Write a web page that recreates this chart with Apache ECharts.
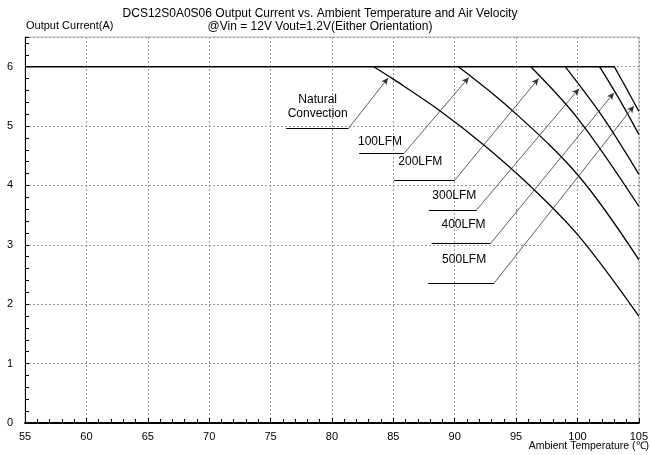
<!DOCTYPE html>
<html><head><meta charset="utf-8">
<script src="https://cdn.jsdelivr.net/npm/echarts@6/dist/echarts.min.js"></script>
<style>html,body{margin:0;padding:0;background:#fff}#c{width:651px;height:455px}</style>
</head><body><div id="c"></div>
<script>
const titleLines = ['DCS12S0A0S06 Output Current vs. Ambient Temperature and Air Velocity', '@Vin = 12V Vout=1.2V(Either Orientation)'];
const yName = 'Output Current(A)';
const xName = 'Ambient Temperature (\u2103)';
const xMin = 55, xMax = 105, xStep = 5;
const yMin = 0, yMax = 6.5, yStep = 1;

// flat 6 A plateau shared by all curves
const plateau = [[55,6],[103,6]];
// derating parts (from knee to 105 C)
const natural = [[83.4,6],[85,5.79],[88.85,5.25],[92.5,4.66],[96.15,3.99],[100.1,3.15],[105,1.8]];
const lfm100  = [[90.3,6],[94.6,5.28],[100.1,4.16],[105,2.75]];
const lfm200  = [[96.2,6],[100.1,5.11],[105,3.65]];
const lfm300  = [[99,6],[102,5.17],[105,4.19]];
const lfm400  = [[101.8,6],[103.5,5.42],[105,4.86]];
const lfm500  = [[103,6],[104,5.63],[105,5.25]];

// annotation labels: [text, x, y]
const labels = [
  ['Natural\nConvection', 78.84, 5.32],
  ['100LFM', 83.92, 4.73],
  ['200LFM', 87.2, 4.40],
  ['300LFM', 89.97, 3.82],
  ['400LFM', 90.72, 3.34],
  ['500LFM', 90.77, 2.75]
];
// underline: [x1, x2, y]
const underlines = [
  [76.27, 81.35, 4.96],
  [82.22, 85.87, 4.54],
  [85.06, 90.01, 4.09],
  [87.9, 91.79, 3.59],
  [88.12, 92.91, 3.02],
  [87.84, 93.23, 2.36]
];
// arrow tips on curves: [x, y]
const tips = [
  [84.57, 5.81],
  [91.15, 5.82],
  [96.83, 5.80],
  [100.13, 5.63],
  [102.97, 5.56],
  [104.6, 5.34]
];

const FONT = "'Liberation Sans', Arial, sans-serif";
const chart = echarts.init(document.getElementById('c'), null, {renderer:'canvas'});

const curveStyle = {color:'#000', width:1.3};
function curve(name, data, extra) {
  return Object.assign({
    name, type:'line', data, showSymbol:false, symbol:'none', smooth:0.35,
    lineStyle: curveStyle, itemStyle:{color:'#000'}, animation:false, silent:true
  }, extra || {});
}

const option = {
  animation:false,
  backgroundColor:'#fff',
  title: {
    text: titleLines.join('\n'),
    left: 315, top: 2, textAlign:'center',
    textStyle:{fontFamily:FONT, fontSize:12, fontWeight:'normal', color:'#000', lineHeight:13}
  },
  graphic: [
    {type:'text', left:26, top:20, style:{text:yName, font:'11px '+FONT, fill:'#000'}},
    {type:'text', right:2, top:441, style:{text:xName, font:'10.5px '+FONT, fill:'#000'}}
  ],
  grid: {left:25, right:10, top:37, bottom:32, show:true, borderColor:'#bbb', borderWidth:1},
  xAxis: {
    type:'value', min:xMin, max:xMax, interval:xStep,
    axisLine:{show:true, onZero:false, lineStyle:{color:'#000', width:2}},
    axisTick:{show:true, inside:true, length:5, lineStyle:{color:'#000'}},
    minorTick:{show:true, splitNumber:5, length:4, lineStyle:{color:'#000'}},
    axisLabel:{fontFamily:FONT, fontSize:11, color:'#000', margin:8},
    splitLine:{show:true, lineStyle:{color:'#999', type:[2,2], width:1}}
  },
  yAxis: [{
    type:'value', min:yMin, max:yMax, interval:yStep, position:'left',
    axisLine:{show:true, onZero:false, lineStyle:{color:'#000', width:1}},
    axisTick:{show:false},
    axisLabel:{fontFamily:FONT, fontSize:11, color:'#000', margin:12,
      formatter: v => (Math.abs(v - Math.round(v)) < 1e-6 ? String(Math.round(v)) : '')},
    splitLine:{show:true, lineStyle:{color:'#999', type:[2,2], width:1}}
  },{
    type:'value', min:yMin, max:yMax, interval:0.2, position:'left',
    axisLine:{show:false},
    axisTick:{show:true, inside:true, length:4, lineStyle:{color:'#000'}},
    axisLabel:{show:false}, splitLine:{show:false}
  }],
  series: [
    curve('Plateau', plateau, {smooth:false, lineStyle:{color:'#000', width:1.5}}),
    curve('Natural Convection', natural, {
      markPoint: {
        symbol:'circle', symbolSize:0, silent:true, animation:false,
        label:{show:true, position:'inside', fontFamily:FONT, fontSize:12, color:'#000', lineHeight:14,
          formatter: p => p.name},
        data: labels.map(l => ({name:l[0], coord:[l[1], l[2]]}))
      }
    }),
    curve('100LFM', lfm100, {
      markLine: {
        silent:true, animation:false, symbol:['none','none'],
        label:{show:false},
        lineStyle:{color:'#000', width:1, type:'solid'},
        data: underlines.map(u => [{coord:[u[0], u[2]]}, {coord:[u[1], u[2]]}])
      }
    }),
    curve('200LFM', lfm200, {
      markLine: {
        silent:true, animation:false, symbol:['none','arrow'], symbolSize:[5,7],
        label:{show:false},
        lineStyle:{color:'#333', width:0.8, type:'solid'},
        data: underlines.map((u,i) => [{coord:[u[1], u[2]]}, {coord:[tips[i][0], tips[i][1]]}])
      }
    }),
    curve('300LFM', lfm300),
    curve('400LFM', lfm400),
    curve('500LFM', lfm500)
  ]
};
chart.setOption(option);
</script>
</body></html>
